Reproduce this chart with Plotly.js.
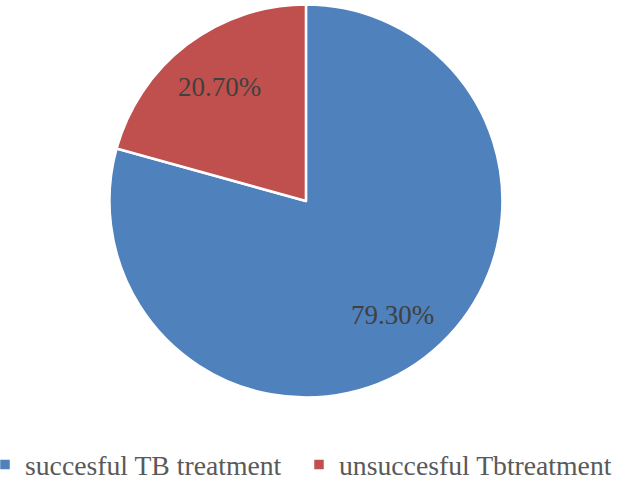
<!DOCTYPE html>
<html>
<head>
<meta charset="utf-8">
<script src="https://cdn.plot.ly/plotly-3.0.1.min.js"></script>
<style>html,body{margin:0;padding:0;background:#fff;}#chart{width:624px;height:492px;}</style>
</head>
<body>
<div id="chart"></div>
<script>
const categories = ["succesful TB treatment", "unsuccesful Tbtreatment"];
const values = [79.3, 20.7];
const textLabels = ["79.30%", "20.70%"];
const colors = ["#4F81BD", "#C0504D"];

const FONT = "'Liberation Serif', 'Times New Roman', 'DejaVu Serif', serif";
const W = 624, H = 492;

const trace = {
  type: "pie",
  labels: categories,
  values: values,
  textinfo: "none",
  sort: false,
  direction: "clockwise",
  rotation: 0,
  marker: { colors: colors, line: { color: "#ffffff", width: 2.5 } },
  domain: { x: [0.1754, 0.8052], y: [0.1921, 0.9909] },
  hoverinfo: "none"
};

const layout = {
  width: W,
  height: H,
  margin: { l: 0, r: 0, t: 0, b: 0, autoexpand: false },
  paper_bgcolor: "#ffffff",
  showlegend: true,
  legend: {
    orientation: "h",
    x: 0,
    xanchor: "left",
    y: 0.004,
    yanchor: "bottom",
    indentation: -15,
    font: { family: FONT, size: 27.7, color: "#595959" },
    itemwidth: 30,
    entrywidth: 284,
    entrywidthmode: "pixels"
  }
};

Plotly.newPlot("chart", [trace], layout, { displayModeBar: false, staticPlot: true }).then(gd => {
  const cd = gd.calcdata[0];
  const cx = cd[0].cx, cy = cd[0].cy, r = cd[0].r;
  const total = values.reduce((a, b) => a + b, 0);
  let cum = 0;
  const anns = values.map((v, i) => {
    const mid = (cum + v / 2) / total;
    cum += v;
    const th = 2 * Math.PI * mid;
    const k = 0.73;
    const px = cx + k * r * Math.sin(th);
    const py = cy - k * r * Math.cos(th);
    return {
      text: textLabels[i], showarrow: false,
      xref: "paper", yref: "paper",
      x: px / W, y: 1 - py / H, xanchor: "center", yanchor: "middle",
      font: { family: FONT, size: 27, color: "#404040" }
    };
  });
  return Plotly.relayout(gd, { annotations: anns });
});
</script>
</body>
</html>
